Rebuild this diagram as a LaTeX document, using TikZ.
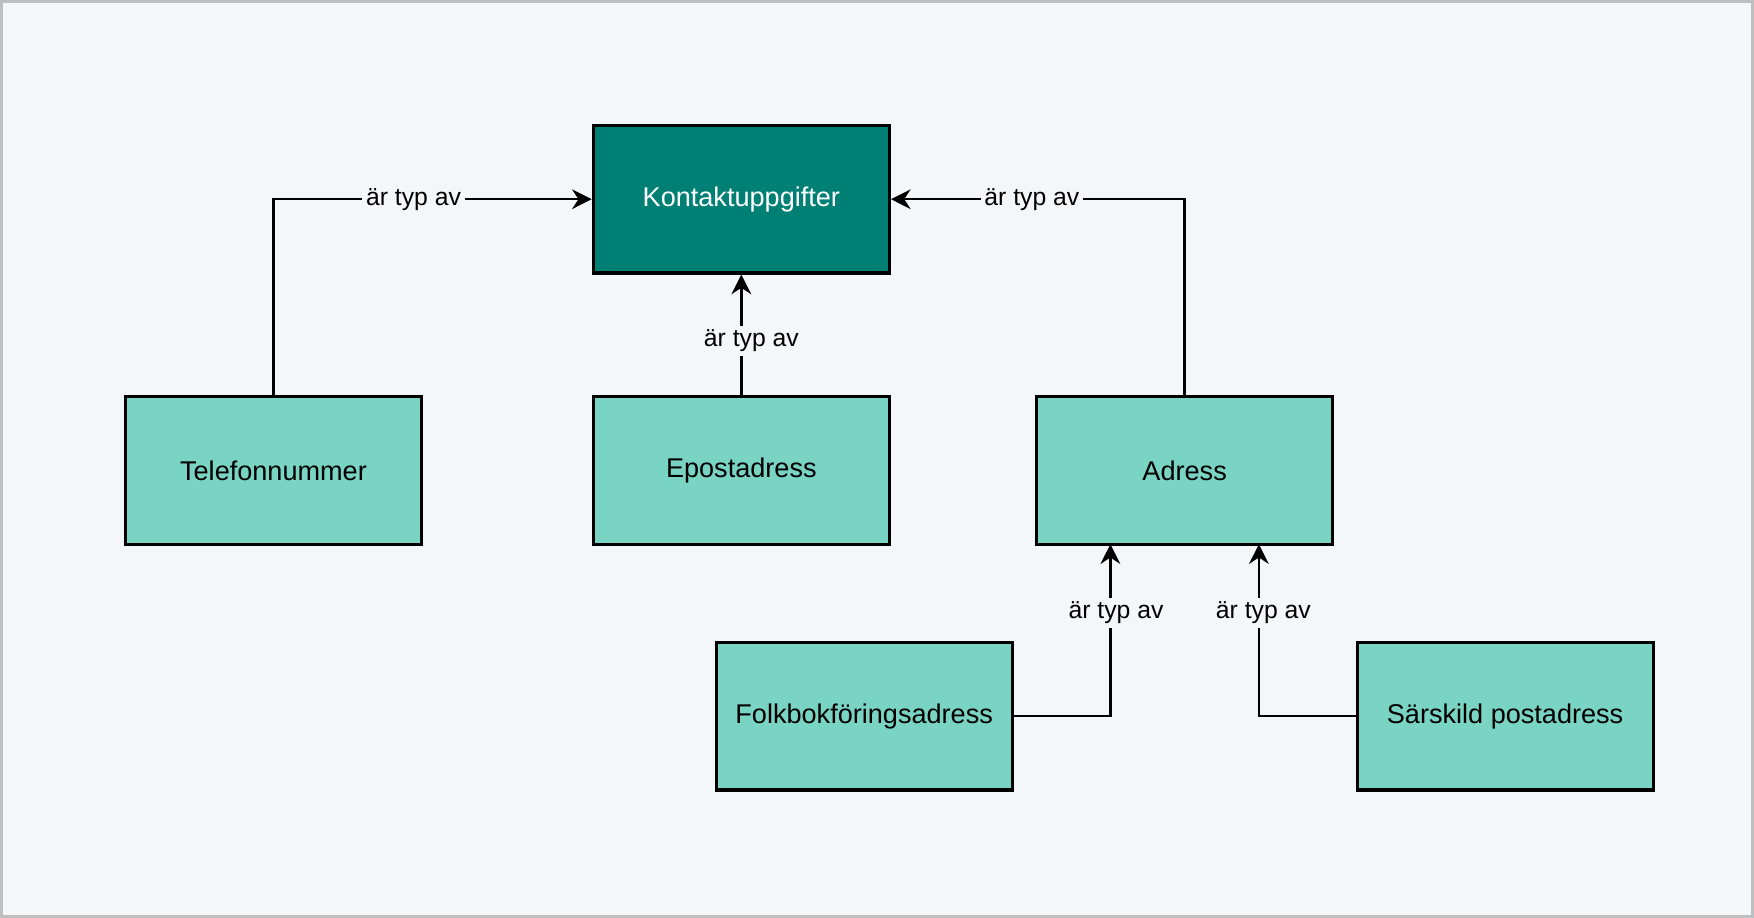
\documentclass[tikz,border=0pt]{standalone}
\usepackage{fontspec}
\setmainfont{Liberation Sans}
\usetikzlibrary{arrows.meta}
\definecolor{bgcol}{HTML}{F4F7FA}
\definecolor{darkteal}{HTML}{008075}
\definecolor{lightteal}{HTML}{79D4C4}
\begin{document}
\begin{tikzpicture}[x=0.01cm,y=-0.01cm,thick,
    box/.style={draw=black,fill=lightteal,minimum width=2.65cm,minimum height=1.32cm,font=\fontsize{6.9}{8}\selectfont},
    lbl/.style={fill=bgcol,inner sep=1pt,font=\fontsize{6.3}{7}\selectfont},
    link/.style={-{Stealth[length=5pt,width=5pt]},line width=0.6pt}]

    % --------------------------------------------------------- %
    % ------------- background
    % --------------------------------------------------------- %
    \draw[fill=bgcol,draw=gray!50] (0,0) rectangle (1568,819);

    % --------------------------------------------------------- %
    % ------------- principal node
    % --------------------------------------------------------- %
    \node[box,fill=darkteal,text=white] (kontakt) at (662.5,177) {Kontaktuppgifter};

    % --------------------------------------------------------- %
    % ------------ types
    % --------------------------------------------------------- %
    % --- Telefon node
    \node[box] (telefon) at (243.5,420) {Telefonnummer};
    \draw [link] (telefon.north) |- node[lbl,pos=0.72] {är typ av} (kontakt.west);
    % --- Epost node
    \node[box] (epost) at (662.5,420) {Epostadress};
    \draw [link] (epost) -- node[lbl,xshift=0.09cm,pos=0.45] {är typ av} (kontakt);
    % --- Adress node
    \node[box] (adress) at (1059.5,420) {Adress};
    \draw [link] (adress.north) |- node[lbl,pos=0.76] {är typ av} (kontakt.east);

    % --------------------------------------------------------- %
    % ------------ address types
    % --------------------------------------------------------- %
    \coordinate (folkin) at (993,486);
    \coordinate (sarin) at (1126,486);
    % --- Folkbokföring node
    \node[box] (folk) at (772.5,640) {Folkbokföringsadress};
    \draw [link] (folk.east) -| node[lbl,pos=0.8,xshift=0.05cm] {är typ av} (folkin);
    % --- Särskild node
    \node[box] (sar) at (1346.5,640) {Särskild postadress};
    \draw [link] (sar.west) -| node[lbl,pos=0.8,xshift=0.04cm] {är typ av} (sarin);

  \end{tikzpicture}
\end{document}
